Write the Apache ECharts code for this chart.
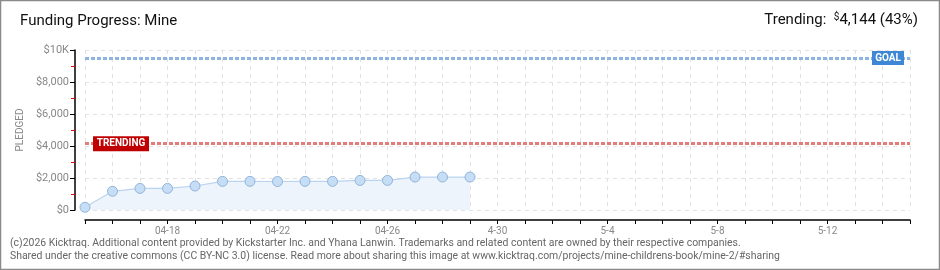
<!DOCTYPE html>
<html><head><meta charset="utf-8">
<script src="https://cdn.jsdelivr.net/npm/echarts@6/dist/echarts.min.js"></script>
<style>html,body{margin:0;padding:0;background:#fff}#c{width:940px;height:270px}</style>
</head><body><div id="c"></div>
<script>
const dates = ['04-15','04-16','04-17','04-18','04-19','04-20','04-21','04-22','04-23','04-24','04-25','04-26','04-27','04-28','04-29','4-30','5-1','5-2','5-3','5-4','5-5','5-6','5-7','5-8','5-9','5-10','5-11','5-12','5-13','5-14','5-15'];
const pledged = [170, 1170, 1350, 1350, 1500, 1790, 1790, 1780, 1790, 1790, 1850, 1850, 2060, 2060, 2060];
const goal = 9500;
const trending = 4144;
const yTicks = ['$0','$2,000','$4,000','$6,000','$8,000','$10K'];

const chart = echarts.init(document.getElementById('c'));
const font = 'Roboto, "DejaVu Sans", sans-serif';
chart.setOption({
  animation: false,
  grid: { left: 85, right: 30, top: 50, bottom: 60 },
  graphic: [
    { type: 'rect', shape: { x: 0.5, y: 0.5, width: 939, height: 269 }, style: { fill: 'none', stroke: '#8a8a8a', lineWidth: 1.5 }, silent: true },
    { type: 'text', left: 20, top: 14, style: { text: 'Funding Progress: Mine', font: '15px ' + font, fill: '#111' } },
    { type: 'text', right: 22, top: 12, style: { text: '{a|Trending:  }{s|$}{a|4,144 (43%)}', rich: { a: { font: '15px ' + font, fill: '#111' }, s: { font: '10px ' + font, fill: '#111', verticalAlign: 'top', padding: [0,0,6,0] } } } },
    { type: 'text', left: 10, top: 237, style: { text: '(c)2026 Kicktraq. Additional content provided by Kickstarter Inc. and Yhana Lanwin. Trademarks and related content are owned by their respective companies.\nShared under the creative commons (CC BY-NC 3.0) license. Read more about sharing this image at www.kicktraq.com/projects/mine-childrens-book/mine-2/#sharing', font: '10.45px ' + font, fill: '#666', lineHeight: 13 } }
  ],
  xAxis: {
    type: 'value', min: 0, max: dates.length - 1, interval: 1, offset: 10,
    axisLine: { show: true, onZero: false, lineStyle: { color: '#000', width: 1.5 } },
    axisTick: { show: true, length: 4, inside: false, lineStyle: { color: '#000' } },
    axisLabel: { margin: 6, color: '#888', fontSize: 10, fontFamily: font,
      formatter: v => ((v - 3) % 4 === 0 && v >= 3) ? dates[v] : '' },
    splitLine: { show: true, lineStyle: { color: '#e2e2e2', type: [4, 4] } }
  },
  yAxis: {
    type: 'value', min: 0, max: 10000, interval: 2000, offset: 10,
    name: 'PLEDGED', nameLocation: 'middle', nameGap: 48, nameRotate: 90,
    nameTextStyle: { color: '#888', fontSize: 10, fontFamily: font },
    axisLine: { show: true, onZero: false, lineStyle: { color: '#000', width: 1.5 } },
    axisTick: { show: true, length: 5, lineStyle: { color: '#000' } },
    minorTick: { show: true, splitNumber: 2, length: 4, lineStyle: { color: '#e00' } },
    axisLabel: { margin: 6, color: '#888', fontSize: 11, fontFamily: font,
      formatter: v => yTicks[v / 2000] },
    splitLine: { show: true, lineStyle: { color: '#e2e2e2', type: [4, 4] } }
  },
  series: [{
    type: 'line',
    data: pledged.map((v, i) => [i, v]),
    symbol: 'circle', symbolSize: 10,
    itemStyle: { color: '#c6ddf6', borderColor: '#93b3d8', borderWidth: 1 },
    lineStyle: { color: '#b9d4f2', width: 1.2 },
    areaStyle: { color: '#edf4fc', opacity: 1 },
    markLine: {
      silent: true, symbol: 'none', label: { show: false },
      data: [
        { yAxis: goal, lineStyle: { color: '#8db3e2', width: 3, type: [4, 2] } },
        { yAxis: trending, lineStyle: { color: '#e47c7c', width: 3, type: [4, 2] } }
      ]
    },
    markPoint: {
      silent: true,
      data: [
        { coord: [29.2, goal], symbol: 'rect', symbolSize: [32, 14], itemStyle: { color: '#3d87d6' },
          label: { show: true, formatter: 'GOAL', color: '#fff', fontSize: 10, fontFamily: font, fontWeight: 'bold' } },
        { coord: [1.31, trending], symbol: 'rect', symbolSize: [56, 15], itemStyle: { color: '#c00000' },
          label: { show: true, formatter: 'TRENDING', color: '#fff', fontSize: 10, fontFamily: font, fontWeight: 'bold' } }
      ]
    }
  }]
});
</script></body></html>
